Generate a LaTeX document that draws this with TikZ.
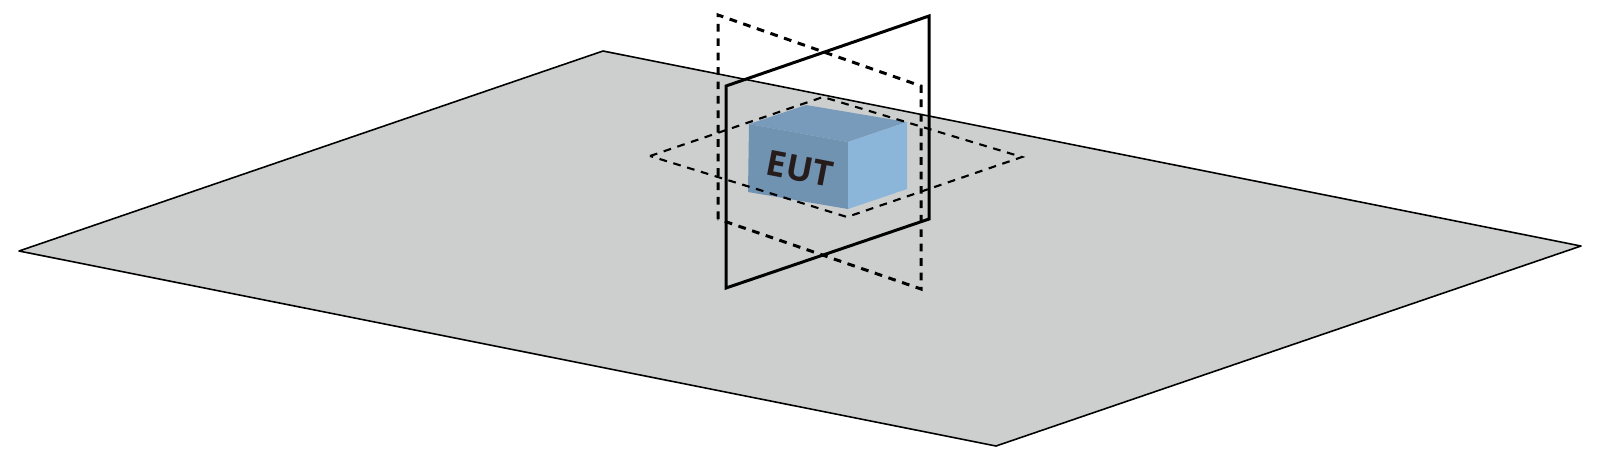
\documentclass[tikz,border=0pt]{standalone}
\usepackage{fontspec}
\setsansfont{Open Sans}
\definecolor{groundGray}{RGB}{205,207,206}
\definecolor{boxTop}{RGB}{120,155,187}
\definecolor{boxFront}{RGB}{112,147,178}
\definecolor{boxSide}{RGB}{140,181,218}
\definecolor{labelInk}{RGB}{38,28,28}
\tikzstyle{groundPlane}=[draw=black,fill=groundGray,line width=0.45pt,line join=round]
\tikzstyle{solidPlane}=[draw=black,line width=0.85pt,line join=miter]
\tikzstyle{dashedPlane}=[draw=black,line width=0.85pt,dash pattern=on 2.2pt off 1.9pt]
\tikzstyle{thinPlane}=[draw=black,line width=0.6pt,dash pattern=on 2.2pt off 1.9pt]

\begin{document}
\begin{tikzpicture}[x=0.01cm,y=-0.01cm]
  \useasboundingbox (0,0) rectangle (1600,463);

  % ground
  \coordinate (g1) at (19,251);
  \coordinate (g2) at (603,51);
  \coordinate (g3) at (1581,246);
  \coordinate (g4) at (996,446);
  \path[groundPlane](g1)--(g2)--(g3)--(g4)--cycle;

  % box
  \coordinate (b1) at (749,124);
  \coordinate (b2) at (806,105);
  \coordinate (b3) at (907,122);
  \coordinate (b4) at (848,142);
  \coordinate (b5) at (748,192);
  \coordinate (b6) at (848,209);
  \coordinate (b7) at (907,189);
  \path[fill=boxTop](b1)--(b2)--(b3)--(b4)--cycle;
  \path[fill=boxFront](b1)--(b4)--(b6)--(b5)--cycle;
  \path[fill=boxSide](b4)--(b3)--(b7)--(b6)--cycle;
  \node[font=\sffamily\bfseries,text=labelInk,inner sep=0pt,rotate=-11] (eut) at (800,169) {EUT};

  % dashed planes
  \coordinate (h1) at (650,156);
  \coordinate (h2) at (823,97);
  \coordinate (h3) at (1022,157);
  \coordinate (h4) at (847,217);
  \path[thinPlane](h1)--(h2)--(h3)--(h4)--cycle;

  \coordinate (d1) at (718,15);
  \coordinate (d2) at (921,86);
  \coordinate (d3) at (921,289);
  \coordinate (d4) at (718,219);
  \path[dashedPlane](d4)--(d1)--(d2)--(d3)--cycle;

  % solid plane
  \coordinate (s1) at (726,86);
  \coordinate (s2) at (929,16);
  \coordinate (s3) at (929,219);
  \coordinate (s4) at (726,288);
  \path[solidPlane](s1)--(s2)--(s3)--(s4)--cycle;

\end{tikzpicture}
\end{document}
